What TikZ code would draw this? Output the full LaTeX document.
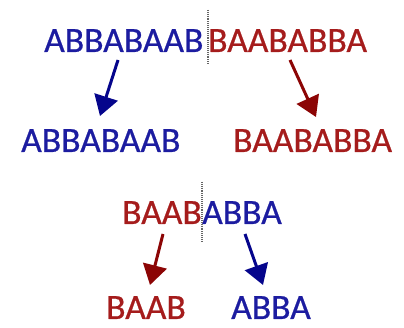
\documentclass[tikz,border=0pt]{standalone}
\usepackage{fontspec}
\setmainfont{Carlito}[FakeBold=0.6]
\usetikzlibrary{arrows.meta}
\definecolor{tblue}{RGB}{28,28,160}
\definecolor{tred}{RGB}{165,28,28}
\definecolor{ablue}{RGB}{5,5,140}
\definecolor{ared}{RGB}{140,5,5}
\begin{document}
\begin{tikzpicture}[x=1pt,y=-1pt,
  word/.style={inner sep=0pt,anchor=base west,font=\fontsize{35.6}{40}\selectfont},
  bw/.style={word,text=tblue},
  rw/.style={word,text=tred},
  barr/.style={draw=ablue,line width=3pt,-{Triangle[length=20pt,width=24pt]}},
  rarr/.style={draw=ared,line width=3pt,-{Triangle[length=20pt,width=24pt]}},
  cut/.style={draw=black!60,line width=2.4pt,dash pattern=on 1pt off 0.9pt}]
\useasboundingbox (0,0) rectangle (404,328);
\fill[white] (0,0) rectangle (404,328);
% top group
\node[bw] (t1) at (44,52) {ABBABAAB};
\node[rw] (t2) at (208,52) {BAABABBA};
\node[bw] (b1) at (21,152) {ABBABAAB};
\node[rw] (b2) at (233,152) {BAABABBA};
\coordinate (c1a) at (208,10);
\coordinate (c1b) at (208,65);
\draw[cut] (c1a) -- (c1b);
\coordinate (s1) at (118,60);
\coordinate (e1) at (100,116);
\coordinate (s2) at (290,60);
\coordinate (e2) at (316,117);
\draw[barr] (s1) -- (e1);
\draw[rarr] (s2) -- (e2);
% bottom group
\node[rw] (t3) at (122,224) {BAAB};
\node[bw] (t4) at (202,224) {ABBA};
\node[rw] (b3) at (106,319) {BAAB};
\node[bw] (b4) at (231,319) {ABBA};
\coordinate (c2a) at (202,182);
\coordinate (c2b) at (202,241);
\draw[cut] (c2a) -- (c2b);
\coordinate (s3) at (163,234);
\coordinate (e3) at (150,285);
\coordinate (s4) at (245,234);
\coordinate (e4) at (263,285);
\draw[rarr] (s3) -- (e3);
\draw[barr] (s4) -- (e4);
\end{tikzpicture}
\end{document}
